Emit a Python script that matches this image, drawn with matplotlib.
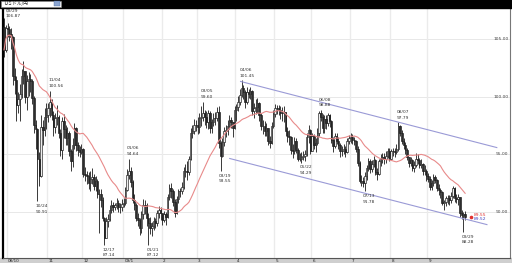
import numpy as np
import pandas as pd
import matplotlib
matplotlib.use("Agg")
import matplotlib.pyplot as plt
from matplotlib.patches import Rectangle

# daily USD/JPY candles, 2008/09/29 - 2009/09/30 (open = previous close)
dates = pd.bdate_range("2008-09-29", "2009-09-30")
first_open = 106.1

close = [
    104.1, 106.0,  # sep
    105.9, 105.5, 105.2, 101.8, 101.5, 99.3, 99.8, 100.3, 101.8, 102.3, 100.0, 101.4,
    101.6, 101.4, 99.9, 97.6, 97.2, 94.6, 93.1, 97.4, 97.1, 98.3, 98.4,  # oct
    99.0, 99.6, 98.4, 97.4, 98.2, 98.3, 96.9, 95.4, 97.9, 97.2, 96.4, 96.9, 95.3,
    94.4, 95.8, 97.3, 95.8, 95.4, 95.2, 95.5,  # nov
    93.3, 93.2, 93.1, 92.5, 92.9, 93.0, 92.3, 92.7, 91.6, 91.6, 91.0, 89.5, 87.7,
    89.2, 89.4, 90.2, 90.6, 90.4, 90.6, 90.8, 90.4, 90.4, 90.7,  # dec
    90.8, 91.9, 93.2, 93.6, 92.6, 91.0, 90.6, 89.5, 89.3, 88.6, 89.8, 90.6, 90.6,
    89.5, 89.0, 88.6, 88.8, 89.2, 89.0, 89.9, 90.2, 89.9,  # jan
    89.3, 89.8, 89.6, 91.3, 92.1, 91.8, 90.9, 89.9, 91.1, 91.8, 91.8, 92.2, 93.6,
    93.6, 93.5, 94.6, 96.9, 97.0, 97.6, 97.6,  # feb
    97.4, 98.2, 98.3, 98.6, 98.3, 97.8, 98.6, 97.3, 97.8, 98.2, 98.2, 98.7, 96.0,
    94.9, 96.1, 97.0, 97.1, 97.5, 98.0, 97.8, 97.3, 98.9,  # mar
    99.1, 99.6, 100.2, 100.8, 100.4, 99.6, 100.4, 100.3, 100.5, 98.8, 99.0, 99.1,
    99.5, 98.4, 97.5, 97.5, 97.0, 97.3, 96.2, 96.0, 97.5, 98.5,  # apr
    99.0, 99.0, 98.9, 98.6, 98.6, 98.7, 97.0, 96.6, 96.5, 95.4, 95.3, 96.2, 95.4,
    94.6, 94.6, 94.8, 94.9, 95.0, 96.5, 97.1, 95.3,  # may
    96.6, 95.8, 96.0, 96.9, 98.6, 98.3, 97.3, 98.1, 97.7, 98.4, 97.9, 96.3, 95.7,
    96.6, 96.2, 95.8, 95.3, 95.3, 95.5, 95.2, 96.2, 96.4,  # jun
    96.5, 96.3, 96.2, 95.5, 94.3, 92.7, 92.7, 92.5, 93.1, 93.8, 94.4, 93.7, 94.2,
    94.5, 93.5, 93.3, 94.4, 94.6, 94.8, 94.6, 94.9, 95.3, 94.6,  # jul
    95.3, 95.3, 95.2, 95.5, 97.5, 96.9, 96.2, 95.8, 95.4, 94.8, 94.3, 94.5, 93.8,
    94.1, 94.6, 94.5, 94.1, 94.2, 93.6, 93.6, 93.1,  # aug
    92.9, 92.2, 92.5, 93.0, 92.8, 92.1, 91.9, 91.7, 90.8, 90.9, 91.2, 91.2, 91.0,
    91.4, 92.1, 91.2, 91.1, 91.3, 89.9, 89.7, 89.8, 89.6,  # sep
]
high = [
    106.87, 106.3,
    106.4, 106.2, 106.0, 105.3, 102.5, 101.8, 100.4, 101.1, 102.4, 103.1, 102.3, 101.9,
    102.2, 102.0, 101.6, 100.1, 98.0, 97.3, 95.2, 98.4, 98.0, 99.0, 99.5,
    99.5, 100.56, 99.8, 98.8, 98.6, 99.3, 98.4, 97.2, 98.3, 98.5, 97.6, 97.4, 97.0,
    95.5, 96.4, 97.7, 97.4, 96.1, 95.7, 95.9,
    95.6, 93.9, 93.6, 93.5, 93.6, 93.8, 93.3, 93.1, 92.9, 92.0, 92.0, 91.3, 89.6,
    89.6, 89.8, 90.6, 91.0, 90.9, 90.8, 91.2, 91.0, 90.8, 91.1,
    91.2, 92.2, 93.7, 94.64, 93.9, 92.8, 91.6, 90.8, 89.9, 89.5, 90.1, 91.1, 91.0,
    90.8, 89.9, 89.6, 89.1, 89.6, 89.5, 90.2, 90.5, 90.4,
    89.9, 90.1, 90.0, 91.6, 92.4, 92.5, 92.0, 91.1, 91.4, 92.0, 92.1, 92.6, 93.9,
    94.2, 94.4, 94.9, 97.3, 97.6, 98.1, 98.0,
    98.3, 98.6, 99.2, 99.60, 98.9, 98.8, 98.9, 98.8, 98.1, 98.6, 98.7, 99.1, 99.2,
    96.2, 96.4, 97.4, 97.6, 98.0, 98.4, 98.3, 97.8, 99.2,
    99.4, 100.1, 100.7, 101.45, 101.0, 100.6, 100.9, 100.7, 100.9, 100.6, 99.5, 99.8,
    99.9, 99.6, 98.6, 98.0, 97.9, 97.7, 97.3, 96.6, 97.8, 98.9,
    99.4, 99.3, 99.3, 99.2, 99.1, 99.2, 98.5, 97.4, 97.1, 96.6, 95.9, 96.5, 96.4,
    95.6, 95.1, 95.2, 95.3, 95.4, 96.9, 97.6, 97.2,
    96.9, 96.8, 96.4, 97.3, 98.8, 98.88, 98.5, 98.4, 98.4, 98.6, 98.5, 98.0, 96.5,
    96.9, 96.9, 96.5, 96.0, 95.7, 95.9, 95.7, 96.4, 96.7,
    96.9, 96.8, 96.5, 96.3, 95.7, 94.4, 93.2, 93.0, 93.5, 94.1, 94.7, 94.6, 94.5,
    94.9, 94.6, 93.8, 94.6, 95.0, 95.1, 95.1, 95.3, 95.6, 95.6,
    95.5, 95.6, 95.6, 95.9, 97.79, 97.6, 97.1, 96.4, 96.1, 95.6, 94.8, 94.8, 94.6,
    94.4, 95.1, 95.0, 94.7, 94.6, 94.3, 94.1, 93.7,
    93.4, 93.1, 92.8, 93.3, 93.2, 92.9, 92.4, 92.1, 91.8, 91.0, 91.4, 91.5, 91.5,
    91.7, 92.3, 92.2, 91.6, 91.6, 91.3, 90.2, 90.0, 90.1,
]
low = [
    103.5, 103.9,
    105.2, 104.9, 104.2, 101.0, 100.3, 97.9, 98.6, 97.9, 99.9, 101.1, 99.5, 98.9,
    100.1, 100.4, 99.4, 96.9, 95.5, 90.91, 92.3, 93.0, 95.8, 96.6, 97.2,
    97.8, 98.3, 98.0, 96.6, 96.9, 97.6, 96.4, 94.9, 94.6, 96.4, 95.8, 95.8, 94.9,
    93.6, 93.9, 95.5, 95.3, 94.9, 94.8, 95.0,
    93.0, 92.7, 92.4, 92.0, 91.8, 92.4, 91.9, 91.8, 91.2, 88.2, 90.4, 89.2, 87.14,
    87.7, 88.7, 89.2, 89.9, 90.0, 90.2, 90.3, 90.0, 89.9, 90.1,
    90.4, 90.6, 91.8, 92.9, 92.2, 90.8, 90.2, 89.2, 88.8, 88.0, 88.2, 89.4, 89.8,
    88.8, 87.12, 88.1, 87.9, 88.4, 88.6, 88.8, 89.5, 89.3,
    88.9, 89.1, 88.9, 89.5, 91.0, 91.2, 90.5, 89.6, 89.8, 90.8, 91.3, 91.6, 92.0,
    93.0, 92.8, 93.2, 94.5, 96.4, 96.8, 97.0,
    96.8, 96.9, 97.5, 97.9, 97.6, 97.3, 97.2, 96.9, 96.9, 97.5, 97.6, 97.9, 95.6,
    93.55, 94.8, 95.7, 96.5, 96.7, 97.2, 97.3, 96.5, 97.2,
    97.9, 98.8, 99.3, 100.0, 99.8, 99.0, 99.4, 99.9, 99.8, 98.4, 98.2, 98.5,
    98.6, 97.9, 97.1, 96.8, 96.6, 96.6, 95.8, 95.6, 95.9, 97.3,
    98.3, 98.5, 98.4, 98.1, 97.9, 97.8, 96.6, 96.1, 95.8, 95.0, 94.7, 95.0, 95.1,
    94.4, 94.4, 94.29, 94.5, 94.4, 94.9, 96.0, 95.0,
    95.3, 95.5, 95.2, 95.8, 96.6, 97.9, 96.9, 96.9, 97.2, 97.5, 97.4, 96.0, 95.2,
    95.6, 95.9, 95.5, 94.8, 94.9, 95.0, 94.8, 95.1, 95.9,
    96.0, 95.9, 95.8, 95.2, 94.0, 92.5, 92.3, 92.2, 91.78, 92.8, 93.6, 93.4, 93.5,
    93.9, 93.2, 92.8, 93.2, 94.0, 94.3, 94.2, 94.3, 94.7, 94.4,
    94.5, 94.9, 94.8, 95.0, 95.3, 96.6, 95.9, 95.5, 95.0, 94.5, 93.9, 94.0, 93.6,
    93.5, 93.9, 94.2, 93.8, 93.8, 93.2, 93.2, 92.7,
    92.6, 91.9, 91.9, 92.3, 92.5, 91.8, 91.5, 91.2, 90.6, 90.2, 90.5, 90.7, 90.6,
    90.8, 91.2, 90.9, 90.8, 90.6, 89.6, 89.4, 88.28, 89.3,
]

# high / low callouts: (date, price, kind)
callouts = [
    ("09/29", 106.87, "high"), ("11/04", 100.56, "high"), ("10/24", 90.91, "low"),
    ("12/17", 87.14, "low"), ("01/06", 94.64, "high"), ("01/21", 87.12, "low"),
    ("03/05", 99.60, "high"), ("03/19", 93.55, "low"), ("04/06", 101.45, "high"),
    ("05/22", 94.29, "low"), ("06/08", 98.88, "high"), ("07/13", 91.78, "low"),
    ("08/07", 97.79, "high"), ("09/29", 88.28, "low"),
]
yticks = [90, 95, 100, 105]
month_labels = ["08/10", "11", "12", "09/1", "2", "3", "4", "5", "6", "7", "8", "9"]
# trend channel (trading-day index, price)
chan_up_x, chan_up_y = [134.4, 280.0], [101.35, 95.6]
chan_lo_x, chan_lo_y = [128.2, 274.4], [94.65, 88.9]
bid_ask = [89.55, 89.52]

assert len(close) == len(high) == len(low) == len(dates)

c = np.array(close)
o = np.concatenate([[first_open], c[:-1]])
h = np.maximum(np.array(high), np.maximum(o, c))
l = np.minimum(np.array(low), np.minimum(o, c))
idx = np.arange(len(c))
ma25 = pd.Series(c).rolling(25, min_periods=1).mean()

W, H = 512, 263
fig = plt.figure(figsize=(W / 100, H / 100), dpi=100)
ax = fig.add_axes([3 / W, 5.5 / H, 507 / W, 250 / H])
ax.set_xlim(-0.6, 287.5)
ax.set_ylim(86.04, 107.78)

# grid
for p in yticks:
    ax.axhline(p, color="#e8e8e8", lw=0.7, zorder=0)
# first trading day of each month (Oct .. Sep)
month_start = [i for i in range(1, len(dates)) if dates[i].month != dates[i - 1].month]
for i in month_start:
    ax.axvline(i - 0.5, color="#ebebeb", lw=1.0, zorder=0)

# candles
up = c >= o
ax.vlines(idx, l, h, color="#1a1a1a", lw=0.6, zorder=2)
ax.bar(idx[up], (c - o)[up], bottom=o[up], width=0.85, color="#eeeeee",
       edgecolor="#1a1a1a", lw=0.45, zorder=3)
ax.bar(idx[~up], (o - c)[~up], bottom=c[~up], width=0.85, color="#2e2e2e",
       edgecolor="#1a1a1a", lw=0.45, zorder=3)

# 25-day moving average
ax.plot(idx, ma25, color="#e88a8a", lw=0.8, zorder=4)

# channel
ax.plot(chan_up_x, chan_up_y, color="#9a9ad6", lw=0.8, zorder=4)
ax.plot(chan_lo_x, chan_lo_y, color="#9a9ad6", lw=0.8, zorder=4)

# callouts
date_str = [d.strftime("%m/%d") for d in dates]
used = set()
for lab, price, kind in callouts:
    cand = [i for i, s in enumerate(date_str) if s == lab and i not in used]
    i = cand[-1] if kind == "low" else cand[0]
    used.add(i)
    txt = f"{lab}\n{price:.2f}"
    xa = max(i - 1, 0)
    if kind == "high":
        # the first label sits right under the top bar
        dy, ls = (0.2, 1.2) if i == 0 else (2, 1.5)
        ax.annotate(txt, (xa, h[i]), xytext=(1 if i == 0 else 0, dy),
                    textcoords="offset points", ha="left", va="bottom",
                    fontsize=3.2, color="#333333", linespacing=ls, zorder=6,
                    annotation_clip=False)
    else:
        ax.annotate(txt, (xa, l[i]), xytext=(0, -2), textcoords="offset points",
                    ha="left", va="top", fontsize=3.2, color="#333333",
                    linespacing=1.5, zorder=6, annotation_clip=False)

# right price scale
for p in yticks:
    ax.text(0.997, p, f"{p:.2f}", transform=ax.get_yaxis_transform(), ha="right",
            va="center", fontsize=3.2, color="#444444")

# bid / ask tags
last = idx[-1]
ax.plot(last + 3.5, bid_ask[0], "o", color="#e03030", ms=1.6, zorder=6)
ax.text(last + 5, bid_ask[0], f"{bid_ask[0]:.2f}", fontsize=3.2, color="#e03030",
        va="bottom", ha="left")
ax.text(last + 5, bid_ask[1], f"{bid_ask[1]:.2f}", fontsize=3.2, color="#4040c0",
        va="top", ha="left")

# month labels in bottom strip
for i, lab in zip(month_start, month_labels):
    ax.text(i + 0.3, -0.006, lab, transform=ax.get_xaxis_transform(), ha="left",
            va="top", fontsize=3.0, color="#222222")

ax.set_xticks([])
ax.set_yticks([])
ax.spines["left"].set_color("black")
ax.spines["left"].set_linewidth(1.6)
ax.spines["bottom"].set_color("#555555")
ax.spines["bottom"].set_linewidth(0.8)
ax.spines["right"].set_color("#777777")
ax.spines["right"].set_linewidth(0.8)
ax.spines["top"].set_visible(False)

# bottom strip and top bar
fig.add_artist(Rectangle((0, 0), 1, 5.5 / H, transform=fig.transFigure,
                         color="#cfcfcf", zorder=-1))
fig.add_artist(Rectangle((0, 1 - 7.5 / H), 1, 7.5 / H, transform=fig.transFigure,
                         color="black"))
fig.add_artist(Rectangle((1 / W, 1 - 6.5 / H), 60 / W, 6 / H, transform=fig.transFigure,
                         facecolor="white", edgecolor="#888888", lw=0.4))
fig.add_artist(Rectangle((53.5 / W, 1 - 6 / H), 6.5 / W, 5 / H, transform=fig.transFigure,
                         facecolor="#8aa4d0", edgecolor="#5570a0", lw=0.3))
fig.text(3 / W, 1 - 3.6 / H, "ＵＳドル/円", fontsize=3.3, va="center", ha="left",
         family=["Noto Sans CJK JP", "DejaVu Sans"], color="#222222")

fig.savefig("out.png", dpi=100)
